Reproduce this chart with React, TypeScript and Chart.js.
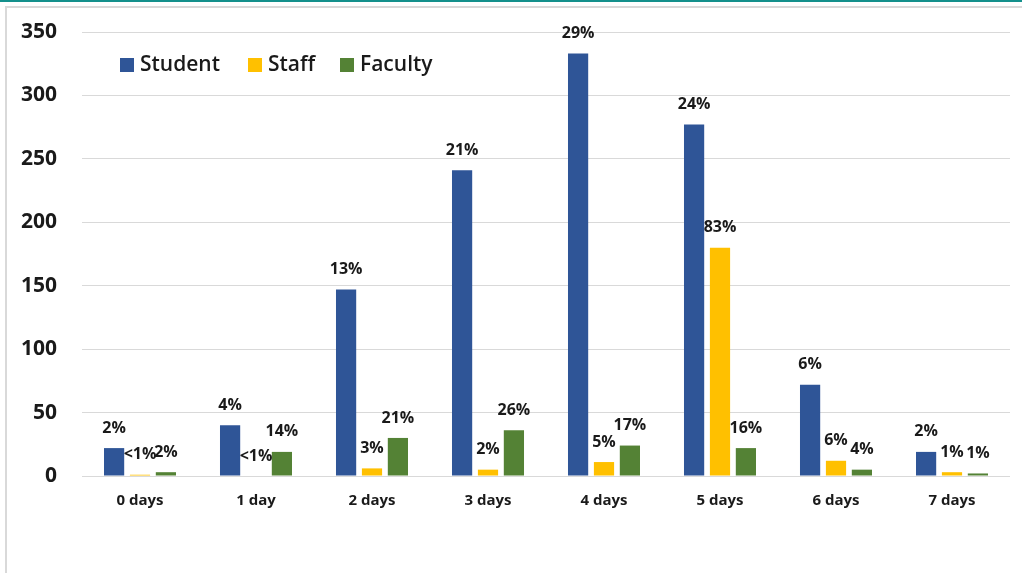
import React, { useEffect, useRef } from "react";
import { Chart, registerables } from "chart.js";

Chart.register(...registerables);

const categories = ["0 days", "1 day", "2 days", "3 days", "4 days", "5 days", "6 days", "7 days"];
const studentValues = [22, 40, 147, 241, 333, 277, 72, 19];
const staffValues = [1, 0, 6, 5, 11, 180, 12, 3];
const facultyValues = [3, 19, 30, 36, 24, 22, 5, 2];
const studentPct = ["2%", "4%", "13%", "21%", "29%", "24%", "6%", "2%"];
const staffPct = ["<1%", "<1%", "3%", "2%", "5%", "83%", "6%", "1%"];
const facultyPct = ["2%", "14%", "21%", "26%", "17%", "16%", "4%", "1%"];
const yTicks = [0, 50, 100, 150, 200, 250, 300, 350];

const FONT = "'Open Sans', 'Noto Sans', sans-serif";

const labelPlugin = {
  id: "pctLabels",
  afterDatasetsDraw(chart: any) {
    const ctx = chart.ctx;
    const sets = [studentPct, staffPct, facultyPct];
    ctx.save();
    ctx.font = `bold 16px ${FONT}`;
    ctx.fillStyle = "#1a1a1a";
    ctx.textAlign = "center";
    ctx.textBaseline = "middle";
    sets.forEach((labels, di) => {
      const meta = chart.getDatasetMeta(di);
      meta.data.forEach((bar: any, i: number) => {
        ctx.fillText(labels[i], bar.x, bar.y - 20);
      });
    });
    ctx.restore();
  },
};

const legendPlugin = {
  id: "innerLegend",
  afterDraw(chart: any) {
    const ctx = chart.ctx;
    const items = [
      { text: "Student", color: "#2F5597", x: 120 },
      { text: "Staff", color: "#FFC000", x: 248 },
      { text: "Faculty", color: "#548235", x: 340 },
    ];
    ctx.save();
    ctx.font = `600 21px ${FONT}`;
    ctx.textBaseline = "middle";
    ctx.textAlign = "left";
    items.forEach((it) => {
      ctx.fillStyle = it.color;
      ctx.fillRect(it.x, 58, 14, 14);
      ctx.fillStyle = "#1a1a1a";
      ctx.fillText(it.text, it.x + 20, 65);
    });
    ctx.restore();
  },
};

export default function App() {
  const ref = useRef<HTMLCanvasElement | null>(null);

  useEffect(() => {
    if (!ref.current) return;
    const chart = new Chart(ref.current, {
      type: "bar",
      data: {
        labels: categories,
        datasets: [
          { label: "Student", data: studentValues, backgroundColor: "#2F5597" },
          { label: "Staff", data: staffValues, backgroundColor: "#FFC000" },
          { label: "Faculty", data: facultyValues, backgroundColor: "#548235" },
        ],
      },
      options: {
        animation: false,
        responsive: false,
        maintainAspectRatio: false,
        layout: { padding: { top: 32, right: 12, left: 0, bottom: 0 } },
        datasets: { bar: { categoryPercentage: 0.67, barPercentage: 0.78 } } as any,
        plugins: {
          legend: { display: false },
          tooltip: { enabled: false },
        },
        scales: {
          x: {
            grid: { display: false, drawTicks: false },
            border: { display: false },
            ticks: {
              color: "#1a1a1a",
              font: { family: FONT, size: 15, weight: "bold" },
              padding: 16,
            },
            afterFit: (s: any) => {
              s.height = 97;
            },
          },
          y: {
            min: 0,
            max: 350,
            afterBuildTicks: (s: any) => {
              s.ticks = yTicks.map((v) => ({ value: v }));
            },
            grid: { color: "#d9d9d9", lineWidth: 1, drawTicks: false },
            border: { display: false },
            ticks: {
              color: "#1a1a1a",
              font: { family: FONT, size: 21, weight: "bold" },
              padding: 25,
            },
            afterFit: (s: any) => {
              s.width = 82;
              s.paddingTop = 0;
              s.paddingBottom = 0;
            },
          },
        },
      },
      plugins: [labelPlugin, legendPlugin],
    });
    return () => chart.destroy();
  }, []);

  return (
    <div
      style={{
        position: "fixed",
        left: 0,
        top: 0,
        width: 1022,
        height: 573,
        background: "#ffffff",
        overflow: "hidden",
      }}
    >
      <div style={{ position: "absolute", left: 0, top: 0, width: 1022, height: 2, background: "#14908c" }} />
      <div
        style={{
          position: "absolute",
          left: 5,
          top: 6,
          width: 1030,
          height: 600,
          borderTop: "2px solid #d9d9d9",
          borderLeft: "2px solid #d9d9d9",
        }}
      />
      <canvas ref={ref} width={1022} height={573} style={{ position: "absolute", left: 0, top: 0 }} />
    </div>
  );
}
